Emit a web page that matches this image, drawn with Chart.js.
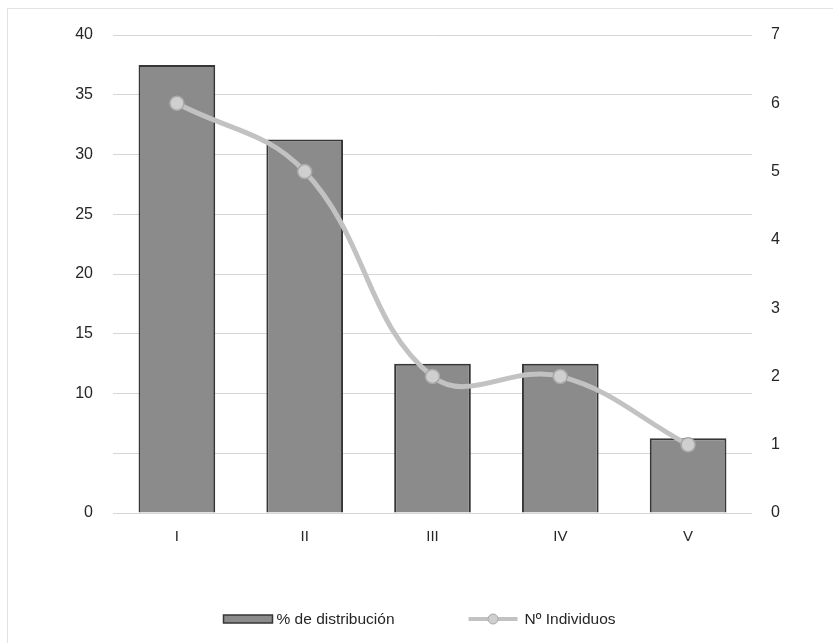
<!DOCTYPE html>
<html>
<head>
<meta charset="utf-8">
<script src="https://cdn.jsdelivr.net/npm/chart.js@4.4.0/dist/chart.umd.min.js"></script>
<style>
  html, body { margin: 0; padding: 0; background: #ffffff; }
  #wrap { position: relative; width: 833px; height: 643px; overflow: hidden; }
  #frame { position: absolute; left: 7px; top: 8px; width: 900px; height: 700px;
           border-top: 1px solid #e2e2e2; border-left: 1px solid #e2e2e2; }
  canvas { position: absolute; left: 0; top: 0; }
</style>
</head>
<body>
<div id="wrap">
  <div id="frame"></div>
  <canvas id="chart" width="833" height="643"></canvas>
</div>
<script>
// Categories and series
const categories = ['I', 'II', 'III', 'IV', 'V'];
const distribucion = [37.5, 31.25, 12.5, 12.5, 6.25];   // % de distribución
const individuos = [6, 5, 2, 2, 1];                      // Nº Individuos
const seriesLabels = ['% de distribución', 'Nº Individuos'];
const leftTicks = [0, 10, 15, 20, 25, 30, 35, 40];       // labelled values on the left axis

const FONT = "'Liberation Sans', Arial, sans-serif";
const TEXT = '#262626';

// Legend drawn below the plot: a box for the bars, a line with a dot for the series line
const bottomLegend = {
  id: 'bottomLegend',
  afterDraw(chart) {
    const ctx = chart.ctx;
    const y = 619;
    const marker = 49, gap = 4, between = 74;
    ctx.save();
    ctx.font = '15.5px ' + FONT;
    ctx.textBaseline = 'middle';
    const ds = chart.data.datasets;
    const w0 = marker + gap + ctx.measureText(ds[0].label).width;
    const w1 = marker + gap + ctx.measureText(ds[1].label).width;
    let x = 418 - (w0 + between + w1) / 2;

    // bar marker
    ctx.fillStyle = ds[0].backgroundColor;
    ctx.strokeStyle = ds[0].borderColor;
    ctx.lineWidth = 1.5;
    ctx.fillRect(x, y - 4, marker, 8);
    ctx.strokeRect(x, y - 4, marker, 8);
    ctx.fillStyle = TEXT;
    ctx.fillText(ds[0].label, x + marker + gap, y + 1);
    x += w0 + between;

    // line marker
    ctx.strokeStyle = ds[1].borderColor;
    ctx.lineWidth = 4;
    ctx.beginPath();
    ctx.moveTo(x, y);
    ctx.lineTo(x + marker, y);
    ctx.stroke();
    ctx.beginPath();
    ctx.arc(x + marker / 2, y, 5, 0, Math.PI * 2);
    ctx.fillStyle = ds[1].pointBackgroundColor;
    ctx.fill();
    ctx.lineWidth = 1;
    ctx.strokeStyle = ds[1].pointBorderColor;
    ctx.stroke();
    ctx.fillStyle = TEXT;
    ctx.fillText(ds[1].label, x + marker + gap + 3, y + 1);
    ctx.restore();
  }
};

new Chart(document.getElementById('chart'), {
  data: {
    labels: categories,
    datasets: [
      {
        type: 'bar',
        label: seriesLabels[0],
        data: distribucion,
        yAxisID: 'y',
        backgroundColor: '#8b8b8b',
        borderColor: '#363636',
        borderWidth: 2,
        barPercentage: 0.6,
        categoryPercentage: 1.0,
        order: 2
      },
      {
        type: 'line',
        label: seriesLabels[1],
        data: individuos,
        yAxisID: 'y1',
        borderColor: '#c2c2c2',
        borderWidth: 5,
        tension: 0.4,
        pointRadius: 7,
        pointBackgroundColor: '#cfcfcf',
        pointBorderColor: '#a9a9a9',
        pointBorderWidth: 1.5,
        order: 1
      }
    ]
  },
  options: {
    responsive: false,
    animation: false,
    layout: { padding: { top: 35, left: 0, right: 0, bottom: 0 } },
    plugins: {
      legend: { display: false },
      tooltip: { enabled: false }
    },
    scales: {
      x: {
        grid: { display: false, drawTicks: false },
        border: { display: false },
        ticks: { color: TEXT, font: { family: FONT, size: 15 }, padding: 15 },
        afterFit: s => { s.height = 130; }
      },
      y: {
        position: 'left',
        min: 0,
        max: 40,
        grid: { color: '#d6d6d6', lineWidth: 1, drawTicks: false },
        border: { display: false },
        ticks: {
          stepSize: 5,
          color: TEXT,
          font: { family: FONT, size: 16 },
          padding: 20,
          callback: v => (leftTicks.includes(v) ? String(v) : '')
        },
        afterFit: s => { s.width = 113; }
      },
      y1: {
        position: 'right',
        min: 0,
        max: 7,
        grid: { display: false, drawTicks: false },
        border: { display: false },
        ticks: { stepSize: 1, color: TEXT, font: { family: FONT, size: 16 }, padding: 19 },
        afterFit: s => { s.width = 81; }
      }
    }
  },
  plugins: [bottomLegend]
});
</script>
</body>
</html>
